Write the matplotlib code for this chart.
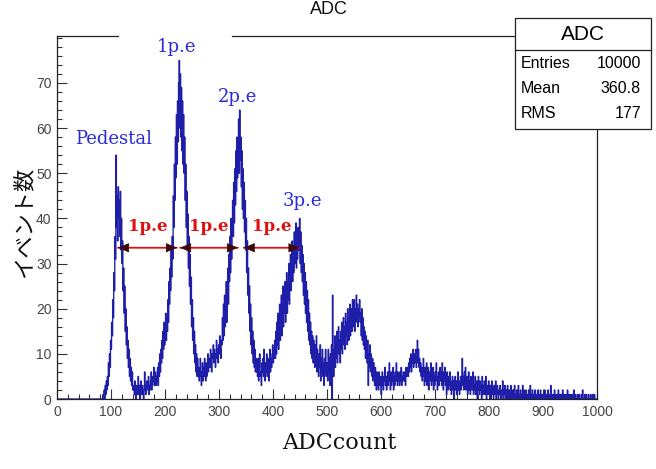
import numpy as np
import matplotlib
matplotlib.use("Agg")
import matplotlib.pyplot as plt
from matplotlib.patches import Rectangle
from matplotlib.lines import Line2D
from matplotlib.ticker import MultipleLocator

# ---------------- data (ADC histogram, 1000 bins of width 1) ----------------
ped_start = 85
ped = [1, 0, 2, 0, 3, 1, 4, 2, 5, 3,
       8, 5, 10, 7, 13,
       11, 17, 14, 22, 18, 28, 24, 36, 31, 54,
       38, 45, 35, 47, 40, 44, 36, 46, 33, 40,
       30, 35, 24, 29, 19, 25, 15, 20, 12, 16,
       9, 13, 7, 11, 5, 9, 4, 7, 3, 6, 2]

valley1_start = 141
valley1 = [2, 3, 1, 4, 2, 0, 3, 1, 2, 5, 1, 3, 0, 2, 4, 1, 2, 3, 1, 0,
           2, 6, 3, 1, 2, 4, 3, 2, 5, 1, 3, 2, 4, 6, 2, 3, 5, 4, 7, 3,
           4, 6, 3, 5]

pe1_start = 185
pe1 = [4, 7, 3, 8, 5, 10, 6, 11, 8, 13,
       9, 15, 11, 17, 12, 14, 19, 13, 18, 15,
       22, 17, 26, 21, 29, 24, 33, 27, 36, 31,
       45, 38, 52, 44, 58, 49, 63, 52, 66, 57,
       70, 75, 60, 72, 58, 69, 55, 66, 52, 63,
       50, 58, 44, 52, 38, 46, 34, 41, 29, 36,
       25, 32, 21, 27, 16, 22, 13, 18, 10, 15,
       8, 12, 6, 10, 5, 9]

valley2_start = 261
valley2 = [5, 7, 4, 6, 9, 5, 3, 6, 8, 4, 7, 5, 9, 6, 4, 8, 5, 7, 10, 6,
           8, 9, 7, 11, 8, 6, 10, 9, 12, 8, 11, 9, 7, 10, 13, 9, 11, 8, 12, 10,
           14, 11, 9, 13, 12]

pe2_start = 306
pe2 = [18, 13, 21, 14, 23, 16, 20, 26, 17, 24,
       29, 21, 32, 26, 36, 28, 40, 31, 38, 44,
       36, 48, 39, 51, 43, 55, 46, 58, 49, 54,
       62, 50, 64, 53, 58, 47, 55, 42, 51, 40,
       48, 37, 44, 33, 40, 28, 35, 23, 29, 19,
       25, 15, 21, 12, 18, 10, 15, 8, 13, 7,
       11, 6, 9]

valley3_start = 369
valley3 = [6, 8, 5, 9, 4, 7, 10, 5, 6, 3, 8, 6, 9, 5, 11, 7, 4, 8, 6, 10,
           5, 9, 7, 4, 8, 11, 6, 9, 7, 10, 12, 8, 11, 9, 13]

pe3_start = 404
pe3 = [9, 15, 10, 17, 12, 19, 11, 16, 21, 13,
       18, 23, 14, 20, 25, 16, 22, 19, 26, 17,
       24, 28, 19, 26, 22, 30, 21, 27, 32, 24,
       29, 35, 26, 33, 28, 37, 30, 34, 39, 29,
       36, 31, 38, 33, 35, 40, 30, 37, 28, 34,
       26, 32, 23, 30, 21, 28, 19, 26, 17, 24,
       15, 22, 13, 19, 12, 17, 10, 15, 9, 14,
       8, 13, 10, 7, 12, 9, 14, 6, 11, 8,
       5, 10, 7, 12, 4, 9, 6, 11, 5, 8,
       3, 9, 6, 11, 5, 8]

tail1_start = 500
tail1 = [8, 4, 11, 6, 9, 3, 10, 7, 12, 0,
         23, 8, 5, 11, 14, 7, 12, 9, 15, 8,
         11, 16, 10, 13, 8, 15, 11, 17, 10, 14,
         18, 12, 16, 11, 19, 14, 17, 12, 20, 15,
         13, 18, 21, 14, 17, 20, 15, 22, 16, 19,
         22, 15, 20, 17, 23, 18, 21, 16, 20, 18,
         22, 17, 19, 14, 20, 13, 18, 12, 16, 11,
         15, 9, 14, 11, 8, 13, 3, 10, 7, 12,
         6, 10, 8, 5, 9, 4, 8, 6, 3, 7,
         5, 2, 6]

tail2_start = 593
tail2 = [3, 5, 2, 6, 4, 3, 5, 1, 4, 6,
         3, 2, 5, 4, 7, 3, 5, 2, 4, 6,
         3, 5, 8, 4, 2, 6, 3, 5, 4, 7,
         2, 5, 3, 6, 4, 8, 5, 3, 6, 4,
         5, 3, 6, 4, 7, 3, 5, 4, 6, 5,
         4, 6, 3, 7, 5, 6,
         7, 5, 8, 6, 9, 7, 10, 6, 9, 8,
         11, 7, 10, 8, 9, 11, 7, 10, 13, 8,
         11, 7, 9, 6,
         8, 5, 7, 4, 6, 9, 5, 3, 7, 4,
         6, 8, 3, 5, 7, 2, 6, 4, 5, 8,
         3, 6, 4, 7, 2, 5, 3, 6, 4, 8,
         5, 2, 4, 6, 3, 5, 7,
         4, 6, 3, 8, 5, 2, 6, 4, 7, 3,
         5, 1, 6, 4, 2, 5, 3, 6, 2]

tail3_start = 729
tail3 = [4, 1, 3, 5, 2, 4, 0, 3, 5, 2,
         4, 1, 3, 6, 2, 4, 1, 3, 5, 2,
         4,
         9, 3, 5, 2, 6, 3, 7, 2, 4, 5,
         1, 3, 6, 2, 4, 1, 5, 3, 2, 4,
         6, 1, 3, 2, 5, 1, 3, 4, 0, 2,
         5, 3, 1, 4, 2, 3, 0, 5, 2, 1,
         3, 4, 1, 2, 5, 0, 3, 2, 1, 4]

tail4_start = 800
tail4 = [2, 1, 3, 0, 2, 4, 1, 2, 0, 3, 1, 2, 4, 0, 1, 3, 2, 0, 1, 2,
         3, 1, 0, 2, 1, 4, 0, 2, 1, 3, 0, 1, 2, 0, 3, 1, 0, 2, 1, 0,
         3, 1, 2, 0, 1, 2, 0, 3, 1, 0,
         1, 2, 0, 1, 3, 0, 1, 0, 2, 1, 0, 1, 3, 0, 2, 0, 1, 0, 2, 1,
         0, 1, 0, 2, 0, 1, 3, 0, 1, 0, 2, 0, 1, 0, 1, 2, 0, 0, 1, 0,
         2, 1, 0, 1, 0, 2, 0, 1, 0, 1,
         0, 1, 0, 2, 0, 1, 0, 0, 1, 2, 0, 1, 0, 0, 3, 0, 1, 0, 1, 0,
         0, 2, 0, 1, 0, 0, 1, 0, 2, 0, 0, 1, 0, 0, 1, 0, 2, 0, 0, 1,
         0, 0, 1, 0, 0, 2, 0, 0, 1, 0,
         0, 1, 0, 0, 1, 0, 0, 2, 0, 0, 1, 0, 0, 0, 1, 0, 0, 1, 0, 0,
         0, 1, 0, 2, 0, 0, 0, 1, 0, 0, 1, 0, 0, 0, 1, 0, 0, 0, 1, 0,
         0, 0, 1, 0, 0, 1, 0, 0, 0, 0]

segments = [(ped_start, ped), (valley1_start, valley1), (pe1_start, pe1),
            (valley2_start, valley2), (pe2_start, pe2), (valley3_start, valley3),
            (pe3_start, pe3), (tail1_start, tail1), (tail2_start, tail2),
            (tail3_start, tail3), (tail4_start, tail4)]

x_ticks = [0, 100, 200, 300, 400, 500, 600, 700, 800, 900, 1000]
y_ticks = [0, 10, 20, 30, 40, 50, 60, 70]

peak_labels = ["Pedestal", "1p.e", "2p.e", "3p.e"]
peak_label_pos = [(105, 57.5), (222, 78.0), (335, 67.0), (455, 43.9)]
arrow_spans = [(113, 222), (228, 335), (346, 449)]
arrow_y = 33.5
gap_label = "1p.e"
gap_label_y = 38.3

stats_title = "ADC"
stats_names = ["Entries", "Mean", "RMS"]
stats_values = ["10000", "360.8", "177"]

# ---------------- build histogram ----------------
n_bins = 1000
edges = np.arange(0, n_bins + 1)
counts = np.zeros(n_bins)
for start, seg in segments:
    counts[start:start + len(seg)] = seg

W, H = 656, 469
fig = plt.figure(figsize=(W / 100, H / 100), dpi=100)
ax = fig.add_axes([57 / W, 1 - 399 / H, 540 / W, 363 / H])

ax.stairs(counts, edges, color='#1e1ea8', lw=0.95, zorder=2)
ax.set_xlim(0, 1000)
ax.set_ylim(0, 80.4)

ax.xaxis.set_minor_locator(MultipleLocator(20))
ax.yaxis.set_minor_locator(MultipleLocator(2))
ax.set_xticks(x_ticks)
ax.set_yticks(y_ticks)
ax.set_xticklabels([str(v) for v in x_ticks])
ax.set_yticklabels([str(v) for v in y_ticks])
ax.tick_params(which='both', direction='in', top=False, right=False, color='#333333', width=0.8)
ax.tick_params(which='major', length=7, labelsize=10, labelcolor='#444444', pad=4)
ax.tick_params(which='minor', length=3.5)
for lab in ax.get_xticklabels() + ax.get_yticklabels():
    lab.set_family('Liberation Sans')

for s in ['left', 'bottom', 'right']:
    ax.spines[s].set_color('#222222')
    ax.spines[s].set_linewidth(0.9)
ax.spines['top'].set_visible(False)
# top frame with gap behind the 1p.e label
for x0, x1 in [(0, 0.113), (0.324, 0.86)]:
    ax.add_line(Line2D([x0, x1], [1, 1], transform=ax.transAxes, color='#222222',
                       lw=0.9, clip_on=False))

# peak labels
for txt, (px, py) in zip(peak_labels, peak_label_pos):
    ax.text(px, py, txt, color='#2a2ad8', fontsize=13, family='DejaVu Serif',
            ha='center', va='center')

# arrows with dark heads
for x0, x1 in arrow_spans:
    ax.annotate('', xy=(x1, arrow_y), xytext=(x0, arrow_y),
                arrowprops=dict(arrowstyle='-', color='#e01010', lw=1.3,
                                shrinkA=0, shrinkB=0))
    for a, b in [(x0, x0 + 12), (x1, x1 - 12)]:
        ax.annotate('', xy=(a, arrow_y), xytext=(b, arrow_y),
                    arrowprops=dict(arrowstyle='-|>,head_length=0.7,head_width=0.3',
                                    color='#3a0a0a', lw=0.5, shrinkA=0, shrinkB=0))
    ax.text((x0 + x1) / 2, gap_label_y, gap_label, color='#e01010', fontsize=12,
            family='DejaVu Serif', fontweight='bold', ha='center', va='center')

# axis titles
fig.text(339 / W, 1 - 443 / H, "ADCcount", fontsize=16, family='DejaVu Serif',
         ha='center', va='center', color='#111111')
fig.text(24 / W, 1 - 222 / H, "イベント数", fontsize=16, rotation=90,
         family=['Noto Sans CJK JP', 'DejaVu Sans'], ha='center', va='center',
         color='#111111')
fig.text(329 / W, 1 - 9 / H, "ADC", fontsize=13, family='Liberation Sans',
         ha='center', va='center', color='#111111')

# stats box
bx0, by0, bx1, by1 = 515, 18, 651, 129
fig.add_artist(Rectangle((bx0 / W, 1 - by1 / H), (bx1 - bx0) / W, (by1 - by0) / H,
                         transform=fig.transFigure, facecolor='white',
                         edgecolor='#222222', lw=0.9, zorder=5))
fig.add_artist(Line2D([bx0 / W, bx1 / W], [1 - 50 / H, 1 - 50 / H],
                      transform=fig.transFigure, color='#222222', lw=0.9, zorder=6))
fig.text(583 / W, 1 - 35 / H, stats_title, fontsize=15, family='Liberation Sans',
         ha='center', va='center', zorder=7)
for i, (nm, val) in enumerate(zip(stats_names, stats_values)):
    yy = 1 - (63 + 25.5 * i) / H
    fig.text(521 / W, yy, nm, fontsize=11.5, family='Liberation Sans',
             ha='left', va='center', zorder=7)
    fig.text(641 / W, yy, val, fontsize=11.5, family='Liberation Sans',
             ha='right', va='center', zorder=7)

fig.savefig("out.png", dpi=100)
